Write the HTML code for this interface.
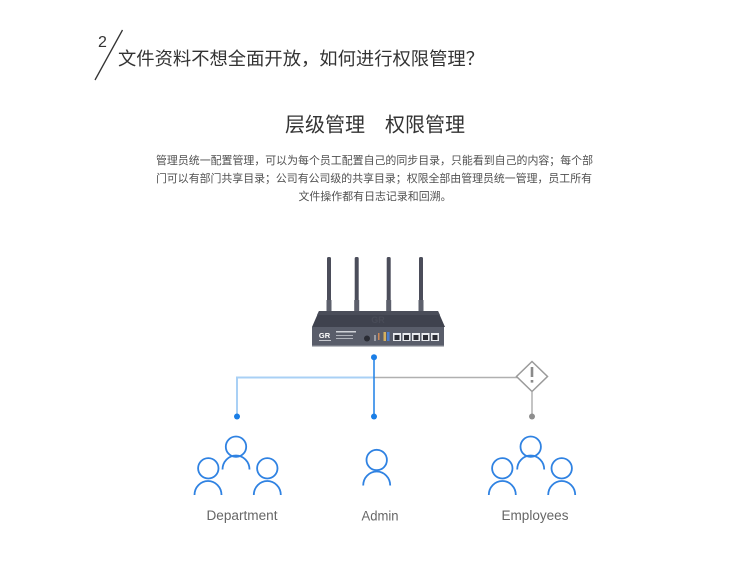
<!DOCTYPE html>
<html>
<head>
<meta charset="utf-8">
<style>
  html,body{margin:0;padding:0;background:#fff;}
  body{width:750px;height:576px;overflow:hidden;position:relative;}
  svg{position:absolute;left:0;top:0;}
  .cjk{font-family:"Liberation Sans","Noto Sans CJK SC",sans-serif;}
  .lat{font-family:"Liberation Sans",Arial,sans-serif;}
</style>
</head>
<body>
<svg width="750" height="576" viewBox="0 0 750 576" xmlns="http://www.w3.org/2000/svg">
  <!-- Title -->
  <text x="98" y="47" class="lat" font-size="16" fill="#333">2</text>
  <line x1="122.5" y1="30" x2="95" y2="80" stroke="#333" stroke-width="1.3"/>
  <text x="118" y="65" class="cjk" font-size="18" fill="#333" textLength="366" lengthAdjust="spacingAndGlyphs">文件资料不想全面开放，如何进行权限管理？</text>

  <!-- Heading -->
  <text x="375" y="131.5" class="cjk" font-size="20" fill="#333" text-anchor="middle">层级管理　权限管理</text>

  <!-- Paragraph -->
  <text x="374.5" y="164" class="cjk" font-size="11" fill="#505050" text-anchor="middle" textLength="437" lengthAdjust="spacingAndGlyphs">管理员统一配置管理，可以为每个员工配置自己的同步目录，只能看到自己的内容；每个部</text>
  <text x="374" y="182" class="cjk" font-size="11" fill="#505050" text-anchor="middle" textLength="436" lengthAdjust="spacingAndGlyphs">门可以有部门共享目录；公司有公司级的共享目录；权限全部由管理员统一管理，员工所有</text>
  <text x="375" y="200" class="cjk" font-size="11" fill="#505050" text-anchor="middle" textLength="153" lengthAdjust="spacingAndGlyphs">文件操作都有日志记录和回溯。</text>

  <!-- Router antennas -->
  <g fill="#4b4d5a">
    <rect x="327" y="257" width="4" height="55" rx="1.5"/>
    <rect x="354.7" y="257" width="4" height="55" rx="1.5"/>
    <rect x="386.7" y="257" width="4" height="55" rx="1.5"/>
    <rect x="419" y="257" width="4" height="55" rx="1.5"/>
  </g>
  <g fill="#5d606c">
    <rect x="326.5" y="300" width="5" height="12"/>
    <rect x="354.2" y="300" width="5" height="12"/>
    <rect x="386.2" y="300" width="5" height="12"/>
    <rect x="418.5" y="300" width="5" height="12"/>
  </g>
  <!-- Router lid -->
  <polygon points="319,311 438,311 445,327 312,327" fill="#3f424e"/>
  <polygon points="319,311 438,311 440,315 317,315" fill="#4a4d59"/>
  <text x="378" y="323" class="lat" font-size="9" font-weight="bold" fill="#484b57" text-anchor="middle">GR</text>
  <!-- Front panel -->
  <rect x="312" y="327" width="132" height="19" fill="#595d6a"/>
  <rect x="312" y="345" width="132" height="1.5" fill="#777b86"/>
  <text x="324.5" y="338" class="lat" font-size="7.5" font-weight="bold" fill="#fff" text-anchor="middle">GR</text>
  <rect x="319" y="340" width="12" height="1" fill="#c8cad0"/>
  <rect x="336" y="331" width="20" height="1.5" fill="#d0d2d8"/>
  <rect x="336" y="335" width="17" height="1" fill="#b0b3bb"/>
  <rect x="336" y="338" width="17" height="1" fill="#b0b3bb"/>
  <circle cx="367" cy="338.5" r="3" fill="#2a2c34"/>
  <rect x="374" y="335" width="2" height="6" fill="#9a9ca4"/>
  <rect x="378" y="333" width="1.5" height="7" fill="#c85"/>
  <rect x="383.5" y="332" width="2.5" height="9" fill="#d4b060"/>
  <rect x="387" y="332" width="2.5" height="9" fill="#4a7fd0"/>
  <g fill="#e8eaee">
    <rect x="393" y="333" width="8" height="8"/>
    <rect x="402.5" y="333" width="8" height="8"/>
    <rect x="412" y="333" width="8" height="8"/>
    <rect x="421.5" y="333" width="8" height="8"/>
    <rect x="431" y="333" width="8" height="8"/>
  </g>
  <g fill="#2b2d35">
    <rect x="394.5" y="335" width="5" height="5"/>
    <rect x="404" y="335" width="5" height="5"/>
    <rect x="413.5" y="335" width="5" height="5"/>
    <rect x="423" y="335" width="5" height="5"/>
    <rect x="432.5" y="335" width="5" height="5"/>
  </g>

  <!-- Connectors -->
  <polyline points="237,416.5 237,377.5 374,377.5" fill="none" stroke="#a9d0f5" stroke-width="2"/>
  <line x1="374" y1="377.5" x2="517" y2="377.5" stroke="#b0b0b0" stroke-width="1.5"/>
  <line x1="374" y1="357" x2="374" y2="416.5" stroke="#2a87e8" stroke-width="1.6"/>
  <circle cx="374" cy="357.3" r="3" fill="#1a7ee6"/>
  <circle cx="374" cy="416.5" r="3" fill="#1a7ee6"/>
  <circle cx="237" cy="416.5" r="3" fill="#1a7ee6"/>
  <!-- Warning diamond -->
  <polygon points="532,361.5 547.5,376.5 532,391.5 516.5,376.5" fill="#fff" stroke="#9a9a9a" stroke-width="1.5"/>
  <rect x="530.7" y="367" width="2.6" height="10" fill="#8a8a8a"/>
  <rect x="530.7" y="380" width="2.6" height="2.6" fill="#8a8a8a"/>
  <line x1="532" y1="391.5" x2="532" y2="416.5" stroke="#b0b0b0" stroke-width="1.5"/>
  <circle cx="532" cy="416.5" r="3" fill="#8e8e8e"/>

  <!-- People -->
  <g fill="none" stroke="#2f82e2" stroke-width="1.8">
    <!-- Department -->
    <circle cx="208.3" cy="468.3" r="10.2"/>
    <path d="M194.5,495 A13.5,14 0 0 1 221.5,495"/>
    <circle cx="236" cy="446.7" r="10.2"/>
    <path d="M222.5,469.5 A13.5,14 0 0 1 249.5,469.5"/>
    <circle cx="267.3" cy="468.3" r="10.2"/>
    <path d="M253.8,495 A13.5,14 0 0 1 280.8,495"/>
    <!-- Admin -->
    <circle cx="376.7" cy="460" r="10.2"/>
    <path d="M363.2,485.5 A13.5,14 0 0 1 390.2,485.5"/>
    <!-- Employees -->
    <circle cx="502.3" cy="468.3" r="10.2"/>
    <path d="M488.8,495 A13.5,14 0 0 1 515.8,495"/>
    <circle cx="530.7" cy="446.7" r="10.2"/>
    <path d="M517.2,469.5 A13.5,14 0 0 1 544.2,469.5"/>
    <circle cx="561.7" cy="468.3" r="10.2"/>
    <path d="M548.2,495 A13.5,14 0 0 1 575.2,495"/>
  </g>

  <!-- Labels -->
  <text x="242" y="520" class="lat" font-size="13.5" fill="#666" text-anchor="middle" textLength="71" lengthAdjust="spacingAndGlyphs">Department</text>
  <text x="380" y="520.7" class="lat" font-size="13.5" fill="#666" text-anchor="middle" textLength="37" lengthAdjust="spacingAndGlyphs">Admin</text>
  <text x="535" y="520" class="lat" font-size="13.5" fill="#666" text-anchor="middle" textLength="67" lengthAdjust="spacingAndGlyphs">Employees</text>
</svg>
</body>
</html>
